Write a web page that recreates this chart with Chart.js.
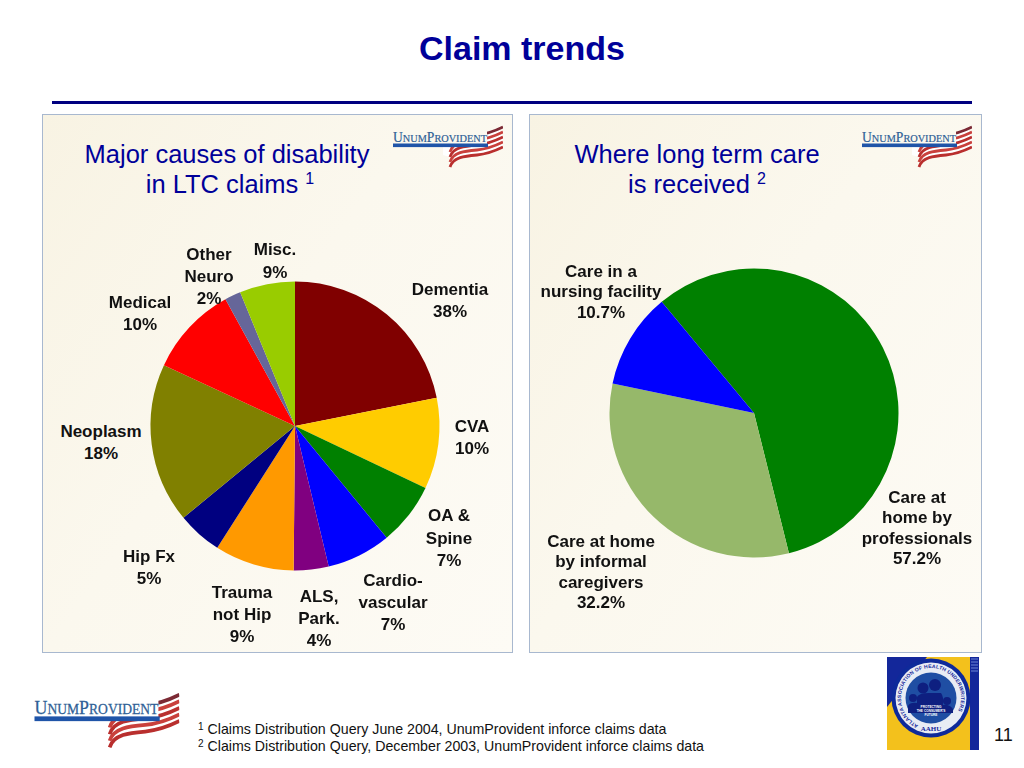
<!DOCTYPE html>
<html>
<head>
<meta charset="utf-8">
<title>Claim trends</title>
<script src="https://cdn.jsdelivr.net/npm/chart.js@4"></script>
<style>
  html, body { margin: 0; padding: 0; background: #fff; }
  body { position: relative; width: 1024px; height: 768px; overflow: hidden;
         font-family: "Liberation Sans", Arial, sans-serif; }
  .abs { position: absolute; }
  #title { left: 0; width: 1044px; top: 28px; text-align: center; font-size: 34px; line-height: 40px;
           font-weight: bold; color: #000099; }
  #rule { left: 52px; top: 101px; width: 920px; height: 3px; background: #000080; }
  .panel { top: 114px; height: 537px; border: 1px solid #a8b8cf;
           background: linear-gradient(125deg, #f8f3e3 0%, #fbf8ee 45%, #fdfbf5 100%); box-sizing: content-box; }
  .head { font-size: 25.5px; line-height: 30px; color: #000099; text-align: center; white-space: nowrap; }
  .head sup { font-size: 16px; line-height: 0; vertical-align: 9px; }
  .lab { font-size: 17px; font-weight: bold; color: #111; text-align: center; white-space: nowrap;
         transform: translateX(-50%); }
  canvas { position: absolute; }
  #notes { left: 198px; top: 721px; font-size: 14.2px; line-height: 17px; color: #111; white-space: nowrap; }
  #notes sup { font-size: 10px; line-height: 0; vertical-align: 4px; }
  #pageNo { left: 994px; top: 725px; font-size: 18px; line-height: 20px; color: #111; }
</style>
</head>
<body>
<svg width="0" height="0" style="position:absolute">
  <defs>
    <clipPath id="flagClip"><path d="M94 0 H110 V44 H50 V22 H94Z"/></clipPath>
    <symbol id="logo" viewBox="0 0 110 44">
      <g fill="none" clip-path="url(#flagClip)">
        <path d="M57 32 C60 22 72 21 84 20 C94 19 102 16 110 12" stroke="#fff" stroke-width="21"/>
        <path d="M57 42 C60 32 72 31 84 30 C94 29 102 26 110 22" stroke="#b92f2e" stroke-width="2.800"/>
        <path d="M57 37 C60 27 72 26 84 25 C94 24 102 21 110 17" stroke="#c9403c" stroke-width="2.800"/>
        <path d="M57 32 C60 22 72 21 84 20 C94 19 102 16 110 12" stroke="#b92f2e" stroke-width="2.800"/>
        <path d="M57 27 C60 17 72 16 84 15 C94 14 102 11 110 7" stroke="#c9403c" stroke-width="2.800"/>
        <path d="M57 22 C60 12 72 11 84 10 C94 9 102 6 110 2" stroke="#7c2a35" stroke-width="2.800"/>
      </g>
      <text x="0" y="16.500" textLength="94" lengthAdjust="spacingAndGlyphs" font-family="Liberation Serif" fill="#2f5f96" stroke="#2f5f96" stroke-width=".2"><tspan font-size="14.500">U</tspan><tspan font-size="11">NUM</tspan><tspan font-size="14.500">P</tspan><tspan font-size="11">ROVIDENT</tspan></text>
      <rect x="0" y="18.500" width="95" height="3.600" fill="#1f54a8"/>
    </symbol>
  </defs>
</svg>

<div id="title" class="abs">Claim trends</div>
<div id="rule" class="abs"></div>

<div class="panel abs" style="left:42px;width:469px"></div>
<div class="panel abs" style="left:529px;width:451px"></div>

<div class="head abs" style="left:42px;width:370px;top:139px">Major causes of disability<br><span style="position:relative;left:3px">in LTC claims <sup>1</sup></span></div>
<div class="head abs" style="left:472px;width:450px;top:139px">Where long term care<br>is received <sup>2</sup></div>

<svg class="abs" style="left:393px;top:125px" width="110" height="44"><use href="#logo"/></svg>
<svg class="abs" style="left:862px;top:125px" width="110" height="44"><use href="#logo"/></svg>
<svg class="abs" style="left:34px;top:692px" width="146" height="58"><use href="#logo"/></svg>

<canvas id="pieCauses" width="300" height="300" style="left:145px;top:276px;width:300px;height:300px"></canvas>
<canvas id="pieCare" width="300" height="300" style="left:604px;top:263px;width:300px;height:300px"></canvas>

<svg class="abs" style="left:887px;top:657px" width="92" height="93" viewBox="0 0 92 93">
  <rect width="92" height="93" fill="#13279a"/>
  <path d="M40 0 H83 V93 H0 V50Z" fill="#f3c11c"/>
  <path d="M84 2 H91 M84 5 H91 M84 8 H91 M84 11 H91 M84 14 H91" stroke="#6f86d6" stroke-width="1"/>
  <circle cx="44" cy="41" r="39.500" fill="#0e2a9a"/>
  <circle cx="44" cy="41" r="35.500" fill="#e8ecf4"/>
  <circle cx="44" cy="41" r="25.500" fill="#1f4ea3"/>
  <path id="ringPath" d="M44 71 A30 30 0 1 1 44.100 71" fill="none"/>
  <text font-size="5.100" font-weight="bold" font-family="Liberation Sans" fill="#13279a" letter-spacing=".2"><textPath href="#ringPath" startOffset="7%">ATLANTA ASSOCIATION OF HEALTH UNDERWRITERS</textPath></text>
  <g fill="#0e1f80">
    <circle cx="36" cy="31" r="5.500"/><circle cx="48" cy="28" r="6"/><circle cx="26" cy="41" r="4"/><circle cx="60" cy="44" r="4"/>
    <path d="M21 56 V49 Q23 45 30 46 V40 Q32 36 42 36 H54 Q57 40 56 48 Q62 47 66 52 V56Z"/>
  </g>
  <text x="44" y="51" font-size="3.200" font-weight="bold" text-anchor="middle" font-family="Liberation Sans" fill="#fff">PROTECTING</text>
  <text x="44" y="55" font-size="3.200" font-weight="bold" text-anchor="middle" font-family="Liberation Sans" fill="#fff">THE CONSUMER'S</text>
  <text x="44" y="59" font-size="3.200" font-weight="bold" text-anchor="middle" font-family="Liberation Sans" fill="#fff">FUTURE</text>
  <text x="44" y="74" font-size="7" font-weight="bold" text-anchor="middle" font-family="Liberation Serif" fill="#13279a">AAHU</text>
</svg>

<div id="notes" class="abs"><sup>1</sup> Claims Distribution Query June 2004, UnumProvident inforce claims data<br><sup>2</sup> Claims Distribution Query, December 2003, UnumProvident inforce claims data</div>
<div id="pageNo" class="abs">11</div>

<script>
// Left pie: slice sizes as drawn (the printed percentages do not match them)
const causeNames = [
  "Dementia", "CVA", "OA &\nSpine", "Cardio-\nvascular", "ALS,\nPark.", "Trauma\nnot Hip",
  "Hip Fx", "Neoplasm", "Medical", "Other\nNeuro", "Misc.",
];
const causePrinted = ["38%", "10%", "7%", "7%", "4%", "9%", "5%", "18%", "10%", "2%", "9%"];
const causeSlices = [21.9, 10.2, 7.0, 7.2, 3.9, 8.9, 5.0, 17.9, 10.1, 1.8, 6.2];
const causeColors = [
  "#800000", "#ffcc00", "#008000", "#0000ff", "#800080", "#ff9900",
  "#000080", "#808000", "#ff0000", "#666699", "#99cc00",
];

// Right pie
const careNames = ["Care at\nhome by\nprofessionals", "Care at home\nby informal\ncaregivers", "Care in a\nnursing facility"];
const carePrinted = ["57.2%", "32.2%", "10.7%"];
const careSlices = [57.2, 32.2, 10.7];
const careColors = ["#008000", "#96b86a", "#0000ff"];

// label placement: centre x, top of block, line height
const causeLabelPos = [
  [450, 279, 22], [472, 416, 22], [449, 505, 22.5], [393, 570, 22], [319, 586, 22], [242, 582, 22],
  [149, 546, 22], [101, 421, 22], [140, 292, 22], [209, 244, 22], [275, 238, 23],
];
const careLabelPos = [[917, 488, 20.4], [601, 532, 20.4], [601, 262, 20.4]];

function addLabels(names, printed, pos) {
  names.forEach((name, i) => {
    const el = document.createElement("div");
    el.className = "lab abs";
    el.style.left = pos[i][0] + "px";
    el.style.top = pos[i][1] + "px";
    el.style.lineHeight = pos[i][2] + "px";
    el.innerText = name + "\n" + printed[i];
    document.body.appendChild(el);
  });
}

function drawPie(id, labels, data, colors, rotation) {
  return new Chart(document.getElementById(id), {
    type: "pie",
    data: {
      labels,
      datasets: [{ data, backgroundColor: colors, borderWidth: 0 }],
    },
    options: {
      responsive: false,
      animation: false,
      rotation,
      radius: 144.5,
      layout: { padding: 0 },
      plugins: { legend: { display: false }, tooltip: { enabled: false } },
    },
  });
}

drawPie("pieCauses", causeNames, causeSlices, causeColors, 0);
drawPie("pieCare", careNames, careSlices, careColors, 320.3);
addLabels(causeNames, causePrinted, causeLabelPos);
addLabels(careNames, carePrinted, careLabelPos);
</script>
</body>
</html>
